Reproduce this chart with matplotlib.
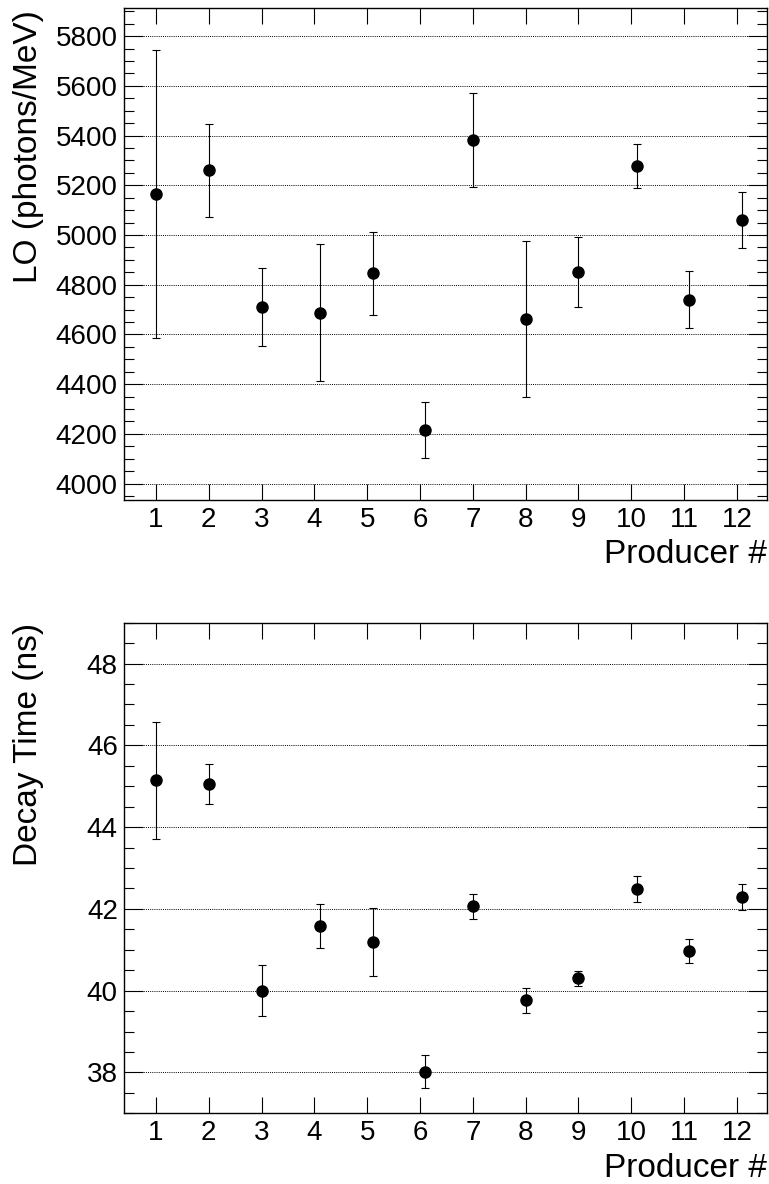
import matplotlib
matplotlib.use("Agg")
import matplotlib.pyplot as plt
from matplotlib.ticker import MultipleLocator

plt.rcParams['font.family'] = ['Liberation Sans', 'DejaVu Sans']

# ---- data ----
producers = [1, 2, 3, 4, 5, 6, 7, 8, 9, 10, 11, 12]
producer_labels = [str(p) for p in producers]
x_pos = [1, 2, 3, 4.1, 5.1, 6.1, 7, 8, 9, 10.1, 11.1, 12.1]
lo = [5165, 5261, 4709, 4687, 4846, 4215, 5382, 4661, 4851, 5276, 4740, 5060]
lo_err = [580, 187, 157, 275, 168, 112, 191, 314, 141, 88, 116, 111]
decay = [45.15, 45.05, 40.00, 41.58, 41.19, 38.02, 42.06, 39.76, 40.30, 42.49, 40.97, 42.30]
decay_err = [1.43, 0.49, 0.63, 0.53, 0.82, 0.40, 0.31, 0.30, 0.18, 0.31, 0.30, 0.32]

W, H = 769, 1184
fig = plt.figure(figsize=(W / 100, H / 100), dpi=100)

def px_axes(left, top, right, bottom):
    return fig.add_axes([left / W, 1 - bottom / H, (right - left) / W, (bottom - top) / H])

ax1 = px_axes(124, 8, 767, 500)
ax2 = px_axes(124, 622.7, 767, 1113.3)

def style(ax, ylim, ymajor, yminor):
    ax.set_xlim(0.394, 12.57)
    ax.set_ylim(*ylim)
    ax.set_xticks(producers)
    ax.set_xticklabels(producer_labels)
    ax.yaxis.set_major_locator(MultipleLocator(ymajor))
    ax.yaxis.set_minor_locator(MultipleLocator(yminor))
    ax.tick_params(axis='y', which='major', direction='in', length=13.7, width=0.8,
                   left=True, right=True, labelsize=20, pad=4.5)
    ax.tick_params(axis='y', which='minor', direction='in', length=7.2, width=0.8,
                   left=True, right=True)
    ax.tick_params(axis='x', which='major', direction='in', length=11.5, width=0.8,
                   top=True, bottom=True, labelsize=20, pad=5)
    ax.tick_params(axis='x', which='minor', bottom=False, top=False)
    for s in ax.spines.values():
        s.set_linewidth(1.0)
        s.set_color('black')
    ax.grid(axis='y', which='major', color='black', linestyle=(0, (1, 1.2)), linewidth=0.7)
    ax.set_axisbelow(True)

style(ax1, (3934, 5913), 200, 50)
style(ax2, (37, 49), 2, 0.5)

for ax, y, e in ((ax1, lo, lo_err), (ax2, decay, decay_err)):
    ax.errorbar(x_pos, y, yerr=e, fmt='o', color='black', markersize=8,
                elinewidth=0.8, capsize=2.6, capthick=0.8, zorder=3)

# axis titles (ROOT style)
fig.text(767 / W, 1 - 563 / H, 'Producer #', ha='right', va='baseline', fontsize=24)
fig.text(767 / W, 1 - 1177 / H, 'Producer #', ha='right', va='baseline', fontsize=24)
fig.text(13 / W, 1 - 10 / H, 'LO (photons/MeV)', rotation=90, ha='left', va='top', fontsize=24)
fig.text(13 / W, 1 - 623 / H, 'Decay Time (ns)', rotation=90, ha='left', va='top', fontsize=24)

fig.savefig('out.png', dpi=100)
